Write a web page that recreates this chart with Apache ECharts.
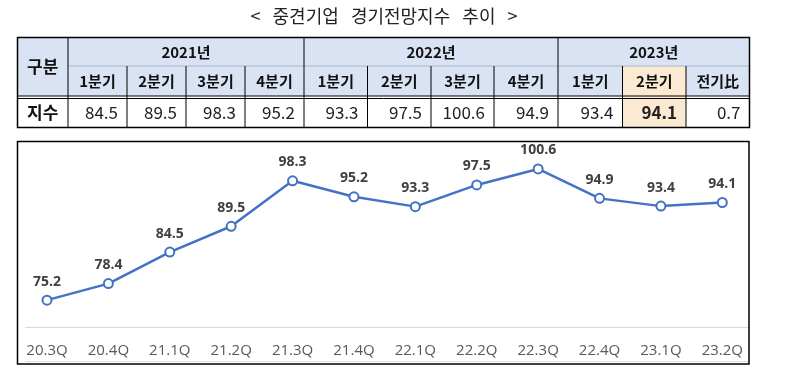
<!DOCTYPE html>
<html><head><meta charset="utf-8">
<script src="https://cdn.jsdelivr.net/npm/echarts@6/dist/echarts.min.js"></script>
<style>html,body{margin:0;padding:0;background:#fff}#c{width:788px;height:390px}</style>
</head><body><div id="c"></div>
<script>
// ---- data ----
var titleText = '<   중견기업   경기전망지수   추이   >';
var categories = ['20.3Q','20.4Q','21.1Q','21.2Q','21.3Q','21.4Q','22.1Q','22.2Q','22.3Q','22.4Q','23.1Q','23.2Q'];
var values = [75.2, 78.4, 84.5, 89.5, 98.3, 95.2, 93.3, 97.5, 100.6, 94.9, 93.4, 94.1];
var tableRowHead = '구분';
var tableRowLabel = '지수';
var tableYears = ['2021년', '2022년', '2023년'];
var tableQuarters = ['1분기','2분기','3분기','4분기','1분기','2분기','3분기','4분기','1분기','2분기','전기比'];
var tableValues = ['84.5','89.5','98.3','95.2','93.3','97.5','100.6','94.9','93.4','94.1','0.7'];
var highlightIndex = 9;

// ---- layout (styles) ----
var colX = [17.5, 68, 127, 186, 245, 304, 367.5, 431, 494, 558, 622.5, 686, 749.5];
var yearSpans = [[1,5],[5,9],[9,12]];
var rowY = [37.5, 66, 96, 98.5, 127.5];
var FONT = '"Noto Sans CJK KR", "Noto Sans", sans-serif';
var g = [];

// backgrounds
g.push({type:'rect', shape:{x:colX[0], y:rowY[0], width:colX[12]-colX[0], height:rowY[2]-rowY[0]}, style:{fill:'#dae3f3'}, z:1});
var hx0 = colX[highlightIndex+1], hx1 = colX[highlightIndex+2];
g.push({type:'rect', shape:{x:hx0, y:rowY[1], width:hx1-hx0, height:rowY[4]-rowY[1]}, style:{fill:'#fce9d2'}, z:2});

function line(x1,y1,x2,y2,color,w){ g.push({type:'line', shape:{x1:x1,y1:y1,x2:x2,y2:y2}, style:{stroke:color, lineWidth:w}, z:5}); }
// row1/row2 light separator
line(colX[1], rowY[1], colX[12], rowY[1], '#aab6cf', 1);
// double line
line(colX[0], rowY[2], colX[12], rowY[2], '#000', 1);
line(colX[0], rowY[3], colX[12], rowY[3], '#000', 1);
// verticals
for (var i = 1; i < 12; i++) {
  var isYear = (i === 1 || i === 5 || i === 9);
  line(colX[i], isYear ? rowY[0] : rowY[1], colX[i], rowY[4], '#000', 1);
}
// outer border
g.push({type:'rect', shape:{x:colX[0], y:rowY[0], width:colX[12]-colX[0], height:rowY[4]-rowY[0]}, style:{fill:'none', stroke:'#000', lineWidth:1.5}, z:6});

function txt(t, x, y, font, align, color){
  g.push({type:'text', x:x, y:y, style:{text:t, font:font, align:align||'center', verticalAlign:'middle', fill:color||'#111'}, z:10});
}
txt(titleText, 384, 16, '18px ' + FONT, 'center', '#222');
txt(tableRowHead, (colX[0]+colX[1])/2, (rowY[0]+rowY[2])/2, 'bold 17px ' + FONT);
txt(tableRowLabel, (colX[0]+colX[1])/2, (rowY[3]+rowY[4])/2, 'bold 17px ' + FONT);
for (var y = 0; y < tableYears.length; y++) {
  var s = yearSpans[y];
  txt(tableYears[y], (colX[s[0]]+colX[s[1]])/2, (rowY[0]+rowY[1])/2 + 1, 'bold 15px ' + FONT);
}
for (var q = 0; q < tableQuarters.length; q++) {
  txt(tableQuarters[q], (colX[q+1]+colX[q+2])/2, (rowY[1]+rowY[2])/2, 'bold 15px ' + FONT);
  txt(tableValues[q], colX[q+2]-9, (rowY[3]+rowY[4])/2, (q === highlightIndex ? 'bold ' : '') + '17px ' + FONT, 'right', '#222');
}

// chart box
g.push({type:'rect', shape:{x:17.5, y:141.5, width:731.5, height:222.5}, style:{fill:'none', stroke:'#000', lineWidth:1.5}, z:6});
g.push({type:'line', shape:{x1:25, y1:361.5, x2:749, y2:361.5}, style:{stroke:'#e0e0e0', lineWidth:1}, z:5});

var chart = echarts.init(document.getElementById('c'));
chart.setOption({
  animation: false,
  grid: {left: 16.3, right: 35, top: 146.2, bottom: 63},
  xAxis: {
    type: 'category', data: categories, boundaryGap: true,
    axisLine: {show: false}, axisTick: {show: false}, splitLine: {show: false},
    axisLabel: {color: '#595959', fontSize: 15, fontFamily: '"Open Sans", sans-serif', margin: 16}
  },
  yAxis: {type: 'value', min: 70, max: 105, show: false, splitLine: {show: false}},
  series: [{
    type: 'line', data: values,
    symbol: 'emptyCircle', symbolSize: 9,
    lineStyle: {color: '#4472c4', width: 2.5},
    itemStyle: {color: '#4472c4', borderWidth: 2},
    label: {show: true, position: 'top', distance: 6, color: '#404040', fontSize: 14, fontWeight: 'bold', fontFamily: '"Open Sans", sans-serif'},
    z: 10
  }],
  graphic: g
});
var gy = Math.round(chart.convertToPixel({yAxisIndex: 0}, 70)) + 0.5;
g.push({type:'line', shape:{x1:25, y1:gy, x2:749, y2:gy}, style:{stroke:'#d9d9d9', lineWidth:1.2}, z:4});
chart.setOption({graphic: g});
</script></body></html>
